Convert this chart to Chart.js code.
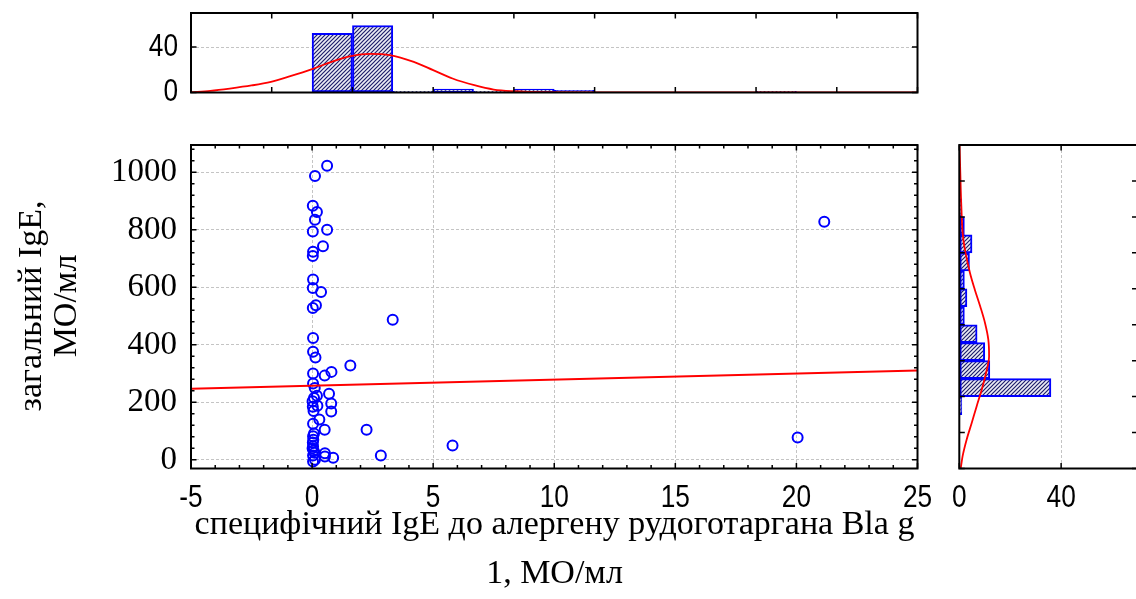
<!DOCTYPE html>
<html><head><meta charset="utf-8">
<script src="https://cdn.jsdelivr.net/npm/chart.js@4.4.1/dist/chart.umd.min.js"></script>
<style>
html,body{margin:0;padding:0;background:#fff;}
body{width:1136px;height:599px;overflow:hidden;position:relative;}
.box{position:absolute;}
.title{position:absolute;font-family:'Liberation Serif','Times New Roman',serif;color:#000;white-space:nowrap;text-align:center;}
</style></head>
<body>
<div class="box" style="left:0;top:-40px;width:940px;height:170px"><canvas id="topHist"></canvas></div>
<div class="box" style="left:0;top:0;width:960px;height:599px"><canvas id="scatter"></canvas></div>
<div class="box" style="left:930px;top:0;width:230px;height:599px"><canvas id="rightHist"></canvas></div>
<div class="title" id="xTitle" style="left:191px;width:727px;top:498px;font-size:34px;line-height:49px;">специфічний IgE до алергену рудоготаргана Bla g<br>1, МО/мл</div>
<div class="title" id="yTitle" style="left:47px;top:306px;width:400px;font-size:34px;line-height:35px;transform:translate(-50%,-50%) rotate(-90deg);">загальний IgE,<br>МО/мл</div>
<script>
// ---------------- data ----------------
const xTickValues = [-5, 0, 5, 10, 15, 20, 25];
const yTickValues = [0, 200, 400, 600, 800, 1000];
const countTickValues = [0, 40];

const specificIgE = [0.62,0.12,0.03,0.20,0.12,0.03,0.62,0.45,0.04,0.03,0.04,0.03,0.37,0.16,0.03,3.33,0.04,0.04,0.14,1.58,0.80,0.52,0.04,0.04,0.11,0.70,0.20,0.02,0.79,0.22,0.06,0.79,0.30,0.04,0.52,2.25,0.08,0.04,0.04,0.06,0.53,0.04,0.53,0.87,0.12,0.04,2.84,5.80,20.05,21.15,0.03,0.05,0.02,0.10,0.03,0.08];
const totalIgE    = [1023,987,884,862,835,794,800,743,724,709,627,598,584,538,528,487,424,376,356,328,306,293,300,266,250,230,223,204,196,188,170,168,140,126,105,105,92,82,47,33,23,15,12,7,0,-6,15,50,78,828,60,70,40,25,185,215];

const regLineX = [-5, 25];
const regLineY = [247, 311];

const histXCenters = [-4.167,-2.5,-0.833,0.833,2.5,4.167,5.833,7.5,9.167,10.833,12.5,14.167,15.833,17.5,19.167,20.833,22.5,24.167];
const histXCounts  = [0,0,0,52,59,1,3,1,3,2,0,0,0,0,1,0,0,0];
const histXTicks   = [-5,-1.667,1.667,5,8.333,11.667,15,18.333,21.667,25];
const normCurveX      = [-5,-4.2,-3.4,-2.5,-1.7,-0.9,0,0.8,1.6,2.4,3.2,4.2,5,5.8,6.7,7.5,8.3,9.7,12,25];
const normCurveXCount = [0.2,1.5,3.5,6.2,9.4,14.4,20.6,27,32,34,33,27,19.7,12.3,6.4,2.6,1.1,0.2,0,0];

const histYCenters = [1.25,63.75,126.25,188.75,251.25,313.75,376.25,438.75,501.25,563.75,626.25,688.75,751.25,813.75,876.25,938.75,1001.25,1063.75];
const histYCounts  = [0,0,0,1,36,12,10,7,2,3,2,4,5,2,1,0,0,0];
const histYTicks   = [-30,95,220,345,470,595,720,845,970,1095];
const normCurveY      = [-28,13,71,129,186,244,302,360,418,476,534,592,650,765,881,997,1095];
const normCurveYCount = [0.6,1.3,2.9,4.9,6.8,8.8,10.5,11.7,11.4,10.1,8.2,6.1,4.2,1.6,0.8,0.4,0.1];

// ---------------- styles ----------------
const BLUE = '#0000ff', RED = '#ff0000';
const GRID = '#c4c4c4', NONE = 'rgba(0,0,0,0)';
const DASH = [3, 2];
const SANS = "'Liberation Sans', Arial, sans-serif";
const serifFont = {family: "'Liberation Serif','Times New Roman',serif", size: 33, lineHeight: 1};
Chart.defaults.color = '#000';

function hatch() {
  const c = document.createElement('canvas'); c.width = 4; c.height = 4;
  const g = c.getContext('2d');
  g.fillStyle = '#ecedf6'; g.fillRect(0, 0, 4, 4);
  g.strokeStyle = '#1e1e6a'; g.lineWidth = 1.2;
  g.beginPath();
  g.moveTo(-1, 5); g.lineTo(5, -1);
  g.moveTo(-1, 1); g.lineTo(1, -1);
  g.moveTo(3, 5); g.lineTo(5, 3);
  g.stroke();
  return g.createPattern(c, 'repeat');
}
const pattern = hatch();

// frame, inward ticks and condensed numeric labels
const framePlugin = {
  id: 'frame',
  afterDraw(chart, args, o) {
    const {ctx, chartArea: a} = chart;
    const xs = chart.scales.x, ys = chart.scales.y;
    ctx.save();
    ctx.strokeStyle = '#000';
    ctx.lineWidth = 1.5;
    ctx.beginPath();
    const tx = (vals, len) => (vals || []).forEach(v => { const p = xs.getPixelForValue(v); ctx.moveTo(p, a.top); ctx.lineTo(p, a.top + len); ctx.moveTo(p, a.bottom); ctx.lineTo(p, a.bottom - len); });
    const ty = (vals, len) => (vals || []).forEach(v => { const p = ys.getPixelForValue(v); ctx.moveTo(a.left, p); ctx.lineTo(a.left + len, p); ctx.moveTo(a.right, p); ctx.lineTo(a.right - len, p); });
    tx(o.xMajor, 5.5); tx(o.xMinor, 3.5); ty(o.yMajor, 5.5); ty(o.yMinor, 3.5);
    ctx.stroke();
    ctx.lineWidth = 2;
    ctx.strokeRect(a.left, a.top, a.right - a.left, a.bottom - a.top);
    ctx.fillStyle = '#000';
    ctx.font = '32px ' + SANS;
    ctx.textBaseline = 'middle';
    (o.xLabels || []).forEach(v => {
      ctx.save(); ctx.translate(xs.getPixelForValue(v), a.bottom + 30); ctx.scale(0.82, 1);
      ctx.textAlign = 'center'; ctx.fillText(String(v), 0, 0); ctx.restore();
    });
    (o.yLabels || []).forEach(v => {
      ctx.save(); ctx.translate(a.left - 13, ys.getPixelForValue(v)); ctx.scale(0.82, 1);
      ctx.textAlign = 'right'; ctx.fillText(String(v), 0, 0); ctx.restore();
    });
    ctx.restore();
  }
};

const setTicks = vals => s => { s.ticks = vals.map(v => ({value: v})); };
const base = {responsive: true, maintainAspectRatio: false, animation: false, events: []};
const noPlug = {legend: {display: false}, tooltip: {enabled: false}};

// minor tick positions (decoration only)
const xMinor = []; for (let v = -5; v <= 25; v++) if (!xTickValues.includes(v)) xMinor.push(v);
const yMinor = []; for (let v = 0; v <= 1080; v += 40) if (!yTickValues.includes(v)) yMinor.push(v);

// ---------------- scatter ----------------
new Chart(document.getElementById('scatter'), {
  type: 'scatter',
  data: {datasets: [
    {type: 'line', data: regLineX.map((x, i) => ({x, y: regLineY[i]})), borderColor: RED, borderWidth: 2, pointRadius: 0, fill: false, order: 0},
    {type: 'scatter', data: specificIgE.map((x, i) => ({x, y: totalIgE[i]})), pointStyle: 'circle', pointRadius: 5, pointBorderWidth: 2, borderColor: BLUE, backgroundColor: NONE, order: 1}
  ]},
  options: Object.assign({}, base, {
    layout: {padding: {top: 145, right: 42.5, left: 0, bottom: 0}},
    plugins: Object.assign({}, noPlug, {frame: {xMajor: xTickValues, xMinor, yMajor: yTickValues, yMinor, xLabels: xTickValues}}),
    scales: {
      x: {type: 'linear', min: -5, max: 25, afterBuildTicks: setTicks(xTickValues), afterFit: s => { s.height = 130.5; },
          ticks: {display: false},
          grid: {color: c => (c.tick && (c.tick.value === -5 || c.tick.value === 25)) ? NONE : GRID, lineWidth: 1, drawTicks: false},
          border: {display: false, dash: DASH}},
      y: {type: 'linear', min: -30, max: 1095, afterBuildTicks: setTicks(yTickValues), afterFit: s => { s.width = 191; },
          ticks: {font: serifFont, padding: 14, autoSkip: false, callback: v => String(v)},
          grid: {color: GRID, lineWidth: 1, drawTicks: false},
          border: {display: false, dash: DASH}}
    }
  }),
  plugins: [framePlugin]
});

// ---------------- top histogram ----------------
new Chart(document.getElementById('topHist'), {
  type: 'bar',
  data: {datasets: [
    {type: 'line', data: normCurveX.map((x, i) => ({x, y: normCurveXCount[i]})), borderColor: RED, borderWidth: 1.8, pointRadius: 0, cubicInterpolationMode: 'monotone', fill: false, order: 0},
    {type: 'bar', data: histXCenters.map((x, i) => ({x, y: histXCounts[i]})), backgroundColor: pattern, borderColor: BLUE, borderWidth: 2, borderSkipped: false, barPercentage: 1, categoryPercentage: 1, order: 1}
  ]},
  options: Object.assign({}, base, {
    layout: {padding: {top: 53, right: 22.5, left: 0, bottom: 0}},
    plugins: Object.assign({}, noPlug, {frame: {xMajor: histXTicks, yMajor: countTickValues, yLabels: countTickValues}}),
    scales: {
      x: {type: 'linear', min: -5, max: 25, offset: false, afterBuildTicks: setTicks(histXTicks), afterFit: s => { s.height = 37.5; },
          ticks: {display: false}, grid: {display: false, offset: false}, border: {display: false}},
      y: {type: 'linear', min: 0, max: 70, afterBuildTicks: setTicks(countTickValues), afterFit: s => { s.width = 191; },
          ticks: {display: false},
          grid: {color: c => (c.tick && c.tick.value === 40) ? GRID : NONE, drawTicks: false},
          border: {display: false, dash: DASH}}
    }
  }),
  plugins: [framePlugin]
});

// ---------------- right histogram ----------------
new Chart(document.getElementById('rightHist'), {
  type: 'bar',
  data: {datasets: [
    {type: 'line', data: normCurveY.map((v, i) => ({x: normCurveYCount[i], y: v})), borderColor: RED, borderWidth: 1.8, pointRadius: 0, cubicInterpolationMode: 'monotone', fill: false, order: 0},
    {type: 'bar', data: histYCenters.map((v, i) => ({x: histYCounts[i], y: v})), backgroundColor: pattern, borderColor: BLUE, borderWidth: 2, borderSkipped: false, barPercentage: 1, categoryPercentage: 1, order: 1}
  ]},
  options: Object.assign({}, base, {
    indexAxis: 'y',
    layout: {padding: {top: 145, right: 22.5, left: 29.3, bottom: 0}},
    plugins: Object.assign({}, noPlug, {frame: {xMajor: countTickValues, yMajor: histYTicks, xLabels: countTickValues}}),
    scales: {
      x: {type: 'linear', position: 'bottom', min: 0, max: 70, afterBuildTicks: setTicks(countTickValues), afterFit: s => { s.height = 130.5; },
          ticks: {display: false},
          grid: {color: c => (c.tick && c.tick.value === 40) ? GRID : NONE, drawTicks: false},
          border: {display: false, dash: DASH}},
      y: {type: 'linear', position: 'left', min: -30, max: 1095, offset: false, afterBuildTicks: setTicks(histYTicks), afterFit: s => { s.width = 0; },
          ticks: {display: false}, grid: {display: false, offset: false}, border: {display: false}}
    }
  }),
  plugins: [framePlugin]
});
</script>
</body></html>
